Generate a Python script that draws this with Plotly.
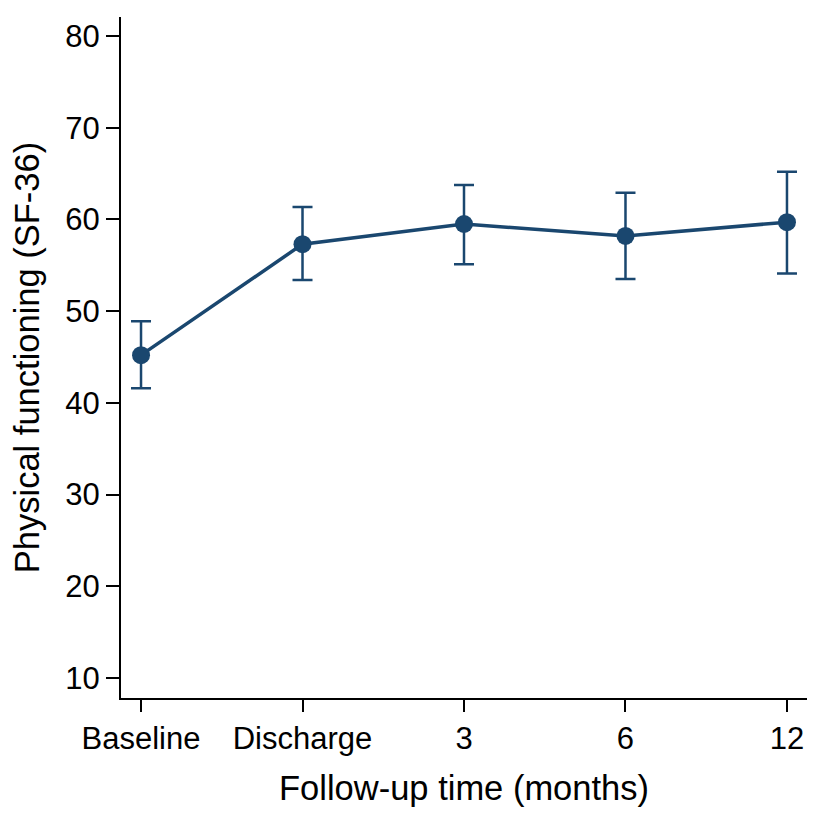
import plotly.graph_objects as go

# time points and SF-36 physical functioning (mean with 95% CI)
timepoints = ["Baseline", "Discharge", "3", "6", "12"]
mean_pf = [45.2, 57.3, 59.5, 58.2, 59.7]
ci_low = [41.6, 53.4, 55.1, 53.5, 54.1]
ci_high = [48.9, 61.35, 63.75, 62.9, 65.2]

y_ticks = [10, 20, 30, 40, 50, 60, 70, 80]

navy = "#1a476f"
x_pos = list(range(len(timepoints)))

fig = go.Figure()
fig.add_trace(go.Scatter(
    x=x_pos,
    y=mean_pf,
    mode="lines+markers",
    line=dict(color=navy, width=3.5),
    marker=dict(color=navy, size=18),
    error_y=dict(
        type="data",
        symmetric=False,
        array=[h - m for h, m in zip(ci_high, mean_pf)],
        arrayminus=[m - l for m, l in zip(mean_pf, ci_low)],
        color=navy,
        thickness=2.5,
        width=10,
    ),
    showlegend=False,
))

# page body adds ~8px, so the figure is sized a bit smaller
fig.update_layout(
    width=811,
    height=799,
    margin=dict(l=113, r=12, t=9, b=109),
    plot_bgcolor="white",
    paper_bgcolor="white",
    font=dict(family="Liberation Sans, Arial", color="black", size=31),
    xaxis=dict(
        range=[-0.124, 4.124],
        tickvals=x_pos,
        ticktext=timepoints,
        automargin=False,
        showgrid=False,
        zeroline=False,
        showline=True,
        linecolor="black",
        linewidth=2,
        ticks="outside",
        ticklen=12,
        tickwidth=2,
        tickcolor="black",
        tickfont=dict(size=31),
        title=dict(text="Follow-up time (months)", font=dict(size=34.5), standoff=24),
    ),
    yaxis=dict(
        range=[7.82, 82.07],
        tickvals=y_ticks,
        automargin=False,
        showgrid=False,
        zeroline=False,
        showline=True,
        linecolor="black",
        linewidth=2,
        ticks="outside",
        ticklen=13,
        tickwidth=2,
        tickcolor="black",
        tickfont=dict(size=31),
        title=dict(text="Physical functioning (SF-36)", font=dict(size=34.5), standoff=22),
    ),
)

fig.write_html("out.html")
